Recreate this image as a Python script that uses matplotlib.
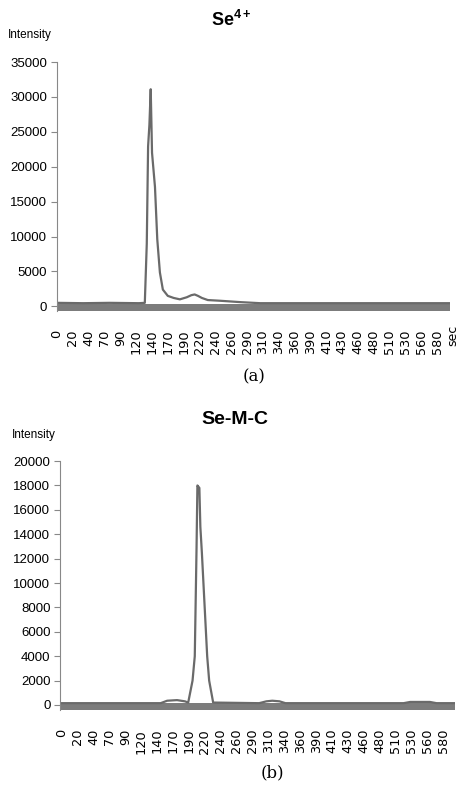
import matplotlib.pyplot as plt
import numpy as np

plt.rcParams['font.family'] = ['Liberation Sans', 'DejaVu Sans']
plt.rcParams['mathtext.fontset'] = 'custom'
plt.rcParams['mathtext.bf'] = 'Liberation Sans:bold'
plt.rcParams['mathtext.rm'] = 'Liberation Sans:bold'

# category labels shown on the time axis (Excel style, every ~24 s)
tick_labels = ['0', '20', '40', '70', '90', '120', '140', '170', '190', '220', '240', '260',
               '290', '310', '340', '360', '390', '410', '430', '460', '480', '510', '530',
               '560', '580']
tick_step = 24.17

# Se(4+) trace (sec, intensity)
t_a = [0, 40, 80, 125, 134, 137, 139, 141, 143, 145, 149.5, 153, 157, 161.5, 169, 178,
       187.5, 198, 205, 210, 215, 221, 230, 248.5, 280, 310, 400, 500, 599]
y_a = [500, 450, 500, 450, 500, 9000, 22900, 26000, 31100, 22000, 17100, 9600, 4850, 2400,
       1500, 1200, 1000, 1300, 1600, 1700, 1500, 1200, 900, 800, 600, 450, 450, 450, 450]

# Se-M-C trace (sec, intensity)
t_b = [0, 100, 150, 160, 175, 187, 192, 198.6, 202, 204.7, 206, 209, 210.5, 212.8, 220.9,
       223.9, 230, 300, 311, 320, 331, 340, 450, 520, 530, 560, 570, 598]
y_b = [150, 150, 150, 350, 400, 300, 200, 2000, 4000, 12900, 18000, 17800, 14600, 12500,
       4000, 2000, 200, 150, 300, 350, 300, 150, 150, 150, 250, 250, 150, 150]

line_c = '#6a6a6a'
band_c = '#7c7c7c'

fig = plt.figure(figsize=(4.59, 7.86), dpi=100)


def style(ax, ymax, ystep, band):
    ax.axhspan(band[0], band[1], color=band_c, lw=0, zorder=1)
    for s in ['top', 'right', 'bottom']:
        ax.spines[s].set_visible(False)
    ax.spines['left'].set_color('#888888')
    ax.spines['left'].set_bounds(band[0], ymax)
    ax.set_yticks(np.arange(0, ymax + 1, ystep))
    ax.tick_params(axis='y', length=4, color='#888888', labelsize=9.5, pad=3)
    ax.set_xticks(np.arange(len(tick_labels)) * tick_step)
    ax.set_xticklabels(tick_labels, rotation=90, family='DejaVu Sans', fontsize=9.3)
    ax.tick_params(axis='x', length=0, pad=11)


ax1 = fig.add_axes([0.124, 0.6005, 0.856, 0.3206])
ax1.plot(t_a, y_a, color=line_c, lw=1.6, zorder=2)
ax1.set_xlim(0, 599)
ax1.set_ylim(-1100, 35000)
style(ax1, 35000, 5000, (-700, 300))
ax1.text(604, -2700, 'sec', rotation=90, ha='center', va='top', family='DejaVu Sans',
         fontsize=9, clip_on=False)

ax2 = fig.add_axes([0.131, 0.0922, 0.86, 0.3212])
ax2.plot(t_b, y_b, color=line_c, lw=1.6, zorder=2)
ax2.set_xlim(-3, 598)
ax2.set_ylim(-700, 20000)
style(ax2, 20000, 2000, (-450, 150))

fig.text(0.503, 0.975, r'Se$^{\mathbf{4+}}$', ha='center', va='center', fontsize=13,
         fontweight='bold')
fig.text(0.512, 0.466, 'Se-M-C', ha='center', va='center', fontsize=14, fontweight='bold')
fig.text(0.018, 0.955, 'Intensity', ha='left', va='center', fontsize=8.5)
fig.text(0.026, 0.447, 'Intensity', ha='left', va='center', fontsize=8.5)
fig.text(0.553, 0.520, '(a)', ha='center', va='center', fontsize=12, family='DejaVu Serif')
fig.text(0.593, 0.0165, '(b)', ha='center', va='center', fontsize=12, family='DejaVu Serif')

fig.savefig('out.png', dpi=100)
